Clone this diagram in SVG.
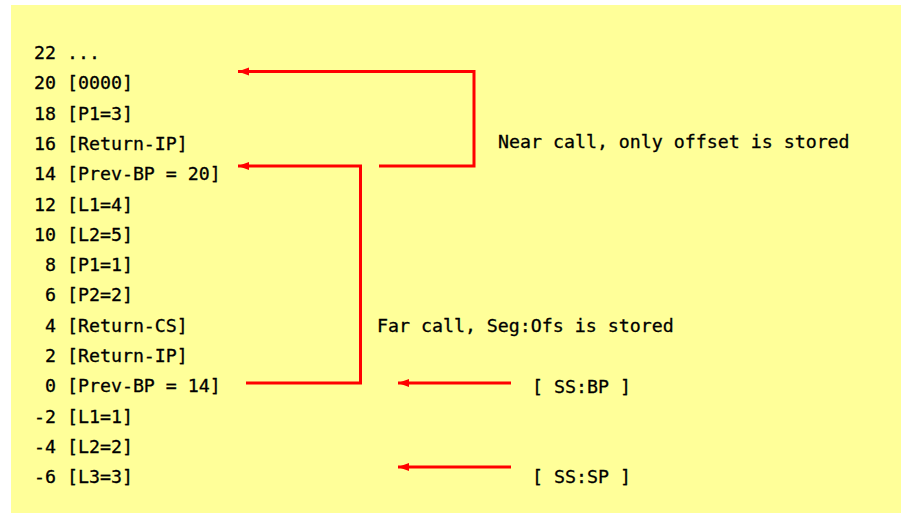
<svg xmlns="http://www.w3.org/2000/svg" width="903" height="513" viewBox="0 0 903 513">
<style>
.t{font-family:"DejaVu Sans Mono","Liberation Mono",monospace;font-size:18.25px;fill:#000;stroke:#000;stroke-width:0.3;white-space:pre}
.c{fill:none;stroke:#f00;stroke-width:3;marker-end:url(#ah)}
</style>
<defs>
<marker id="ah" markerUnits="userSpaceOnUse" markerWidth="12" markerHeight="10" refX="11" refY="4" orient="auto">
<path d="M0,0 L11,4 L0,8 Z" fill="#f00"/>
</marker>
</defs>
<rect x="11" y="5" width="890" height="508" fill="#ffff99"/>
<g id="stack">
<text class="t" x="34" y="59" xml:space="preserve">22 ...</text>
<text class="t" x="34" y="89.3" xml:space="preserve">20 [0000]</text>
<text class="t" x="34" y="119.6" xml:space="preserve">18 [P1=3]</text>
<text class="t" x="34" y="149.9" xml:space="preserve">16 [Return-IP]</text>
<text class="t" x="34" y="180.2" xml:space="preserve">14 [Prev-BP = 20]</text>
<text class="t" x="34" y="210.5" xml:space="preserve">12 [L1=4]</text>
<text class="t" x="34" y="240.8" xml:space="preserve">10 [L2=5]</text>
<text class="t" x="34" y="271.1" xml:space="preserve"> 8 [P1=1]</text>
<text class="t" x="34" y="301.4" xml:space="preserve"> 6 [P2=2]</text>
<text class="t" x="34" y="331.7" xml:space="preserve"> 4 [Return-CS]</text>
<text class="t" x="34" y="362" xml:space="preserve"> 2 [Return-IP]</text>
<text class="t" x="34" y="392.3" xml:space="preserve"> 0 [Prev-BP = 14]</text>
<text class="t" x="34" y="422.6" xml:space="preserve">-2 [L1=1]</text>
<text class="t" x="34" y="452.9" xml:space="preserve">-4 [L2=2]</text>
<text class="t" x="34" y="483.2" xml:space="preserve">-6 [L3=3]</text>
</g>
<g id="labels">
<text class="t" x="498" y="148" xml:space="preserve">Near call, only offset is stored</text>
<text class="t" x="377" y="332" xml:space="preserve">Far call, Seg:Ofs is stored</text>
<text class="t" x="532" y="393" xml:space="preserve">[ SS:BP ]</text>
<text class="t" x="532" y="483" xml:space="preserve">[ SS:SP ]</text>
</g>
<g id="connectors">
<path class="c" d="M379,166 H474 V71.5 H238"/>
<path class="c" d="M246,383 H360.5 V166 H238"/>
<path class="c" d="M511,383 H398"/>
<path class="c" d="M511,467 H398"/>
</g>
</svg>
